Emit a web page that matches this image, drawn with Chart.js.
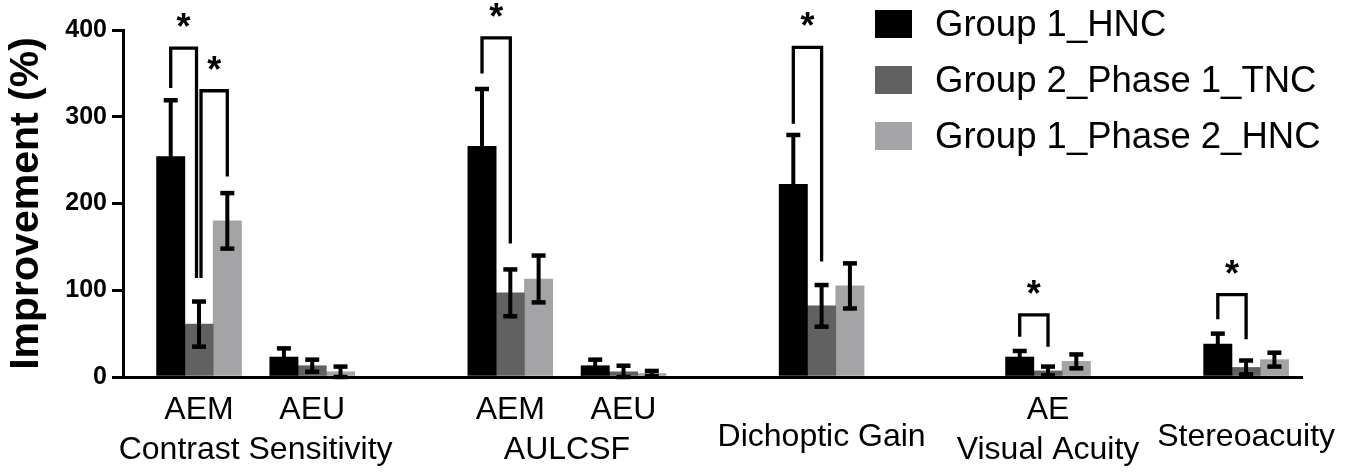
<!DOCTYPE html>
<html lang="en">
<head>
  <meta charset="UTF-8">
  <title>Improvement (%)</title>
  <script src="https://cdn.jsdelivr.net/npm/chart.js"></script>
  <style>
    body { margin: 0; background: #fff; }
    #wrap { position: relative; width: 1355px; height: 472px; }
    #legend {
      position: absolute; left: 875px; top: 10px;
      font-family: 'Liberation Sans', Arial, sans-serif; font-size: 36.5px; color: #000;
    }
    .row { display: flex; align-items: center; height: 28px; margin-bottom: 27.8px; white-space: nowrap; }
    .swatch { width: 37px; height: 28px; margin-right: 23px; flex: none; }
  </style>
</head>
<body>
  <div id="wrap">
    <canvas id="chart" width="1355" height="472"></canvas>
    <div id="legend"></div>
  </div>

  <script>
    // categories and where they sit along the x axis (in bar widths)
    const groups = ['AEM', 'AEU', 'AEM', 'AEU', 'Dichoptic Gain', 'AE', 'Stereoacuity'];
    const groupX = [0, 4, 11, 15, 22, 30, 37];
    // measure names written under their groups
    const measures = ['Contrast Sensitivity', 'AULCSF', 'Visual Acuity'];
    const measureGroups = [[0, 1], [2, 3], [5]];

    const seriesNames = ['Group 1_HNC', 'Group 2_Phase 1_TNC', 'Group 1_Phase 2_HNC'];
    const hnc = [254, 23, 266, 13, 222, 23, 38];
    const hncErr = [65, 10, 66, 7, 57, 7, 12];
    const tnc = [61, 13, 97, 6, 82, 7, 11];
    const tncErr = [26, 7, 27, 7, 24, 5, 8];
    const phase2 = [180, 6, 113, 4, 105, 18, 20];
    const phase2Err = [32, 6, 27, 3, 26, 8, 8];

    const yTicks = [0, 100, 200, 300, 400];

    // significance brackets: from series -> to series within a group, leg ends and top in %
    const brackets = [
      { group: 0, from: 0, to: 1, left: 333, top: 379, right: 114 },
      { group: 0, from: 1, to: 2, left: 114, top: 330, right: 231 },
      { group: 2, from: 0, to: 1, left: 350, top: 391, right: 154 },
      { group: 4, from: 0, to: 1, left: 292, top: 380, right: 133 },
      { group: 5, from: 0, to: 1, left: 46.5, top: 71.5, right: 35 },
      { group: 6, from: 0, to: 1, left: 66.5, top: 95, right: 43.5 }
    ];

    const seriesValues = [hnc, tnc, phase2];
    const seriesErrors = [hncErr, tncErr, phase2Err];
    const colors = ['#000000', '#616161', '#a4a4a6'];

    // x tick labels: 4 thin text rows under the axis
    const tickLabels = {};
    const inMeasure = new Set(measureGroups.flat());
    groups.forEach((g, j) => {
      const lines = tickLabels[groupX[j]] || ['', '', '', ''];
      lines[inMeasure.has(j) ? 0 : 2] = g;
      tickLabels[groupX[j]] = lines;
    });
    measures.forEach((m, k) => {
      const xs = measureGroups[k].map(j => groupX[j]);
      const mid = xs.reduce((a, b) => a + b, 0) / xs.length;
      const lines = tickLabels[mid] || ['', '', '', ''];
      lines[3] = m;
      tickLabels[mid] = lines;
    });
    const tickValues = Object.keys(tickLabels).map(Number).sort((a, b) => a - b);

    Chart.defaults.font.family = "'Liberation Sans', Arial, sans-serif";
    Chart.defaults.color = '#000';

    const errorBars = {
      id: 'errorBars',
      afterDatasetsDraw(chart) {
        const { ctx, scales: { y } } = chart;
        ctx.save();
        ctx.strokeStyle = '#000';
        seriesErrors.forEach((errs, i) => {
          chart.getDatasetMeta(i).data.forEach((bar, j) => {
            const v = seriesValues[i][j];
            const top = y.getPixelForValue(v + errs[j]);
            const bot = y.getPixelForValue(Math.max(v - errs[j], 0));
            ctx.lineWidth = 4;
            ctx.beginPath();
            ctx.moveTo(bar.x, top);
            ctx.lineTo(bar.x, bot);
            ctx.stroke();
            ctx.lineWidth = 4.5;
            [top, bot].forEach(py => {
              ctx.beginPath();
              ctx.moveTo(bar.x - 7, py);
              ctx.lineTo(bar.x + 7, py);
              ctx.stroke();
            });
          });
        });
        ctx.restore();
      }
    };

    const shared = (b, s) => brackets.some(o => o !== b && o.group === b.group && (o.from === s || o.to === s));

    const sigBrackets = {
      id: 'sigBrackets',
      afterDatasetsDraw(chart) {
        const { ctx, scales: { y } } = chart;
        const barX = (s, g) => chart.getDatasetMeta(s).data[g].x;
        ctx.save();
        ctx.lineWidth = 3.3;
        ctx.strokeStyle = '#000';
        ctx.fillStyle = '#000';
        ctx.lineJoin = 'miter';
        ctx.font = "bold 36px 'Liberation Sans', Arial, sans-serif";
        ctx.textAlign = 'center';
        ctx.textBaseline = 'alphabetic';
        brackets.forEach(b => {
          const x1 = barX(b.from, b.group) + (shared(b, b.from) ? 2 : 0);
          const x2 = barX(b.to, b.group) - (shared(b, b.to) ? 2.5 : 0);
          const yTop = y.getPixelForValue(b.top);
          ctx.beginPath();
          ctx.moveTo(x1, y.getPixelForValue(b.left));
          ctx.lineTo(x1, yTop);
          ctx.lineTo(x2, yTop);
          ctx.lineTo(x2, y.getPixelForValue(b.right));
          ctx.stroke();
          const m = ctx.measureText('*');
          const cy = yTop - 28;
          ctx.fillText('*', (x1 + x2) / 2, cy + (m.actualBoundingBoxAscent - m.actualBoundingBoxDescent) / 2);
        });
        ctx.restore();
      }
    };

    new Chart(document.getElementById('chart'), {
      type: 'bar',
      data: {
        datasets: seriesNames.map((name, i) => ({
          label: name,
          data: seriesValues[i].map((v, j) => ({ x: groupX[j], y: v })),
          backgroundColor: colors[i],
          borderWidth: 0,
          barThickness: 28.3
        }))
      },
      options: {
        responsive: false,
        animation: false,
        layout: { padding: { top: 30, right: 53, bottom: 0, left: 0 } },
        plugins: {
          legend: { display: false },
          tooltip: { enabled: false }
        },
        scales: {
          x: {
            type: 'linear',
            offset: false,
            min: -2.686,
            max: 38.975,
            grid: { display: false, drawTicks: false, offset: false },
            border: { display: true, color: '#000', width: 3 },
            afterBuildTicks: s => { s.ticks = tickValues.map(v => ({ value: v })); },
            afterFit: s => { s.height = 95; s.paddingLeft = 0; s.paddingRight = 0; },
            ticks: {
              autoSkip: false,
              maxRotation: 0,
              minRotation: 0,
              padding: 26,
              color: '#000',
              font: { size: 32, lineHeight: '13.5px' },
              callback: v => tickLabels[v]
            }
          },
          y: {
            min: 0,
            max: 400,
            afterBuildTicks: s => { s.ticks = yTicks.map(v => ({ value: v })); },
            afterFit: s => { s.width = 123; },
            grid: { drawOnChartArea: false, drawTicks: true, tickLength: 11, color: '#000', lineWidth: 3 },
            border: { display: true, color: '#000', width: 3 },
            ticks: { padding: 5, color: '#000', font: { size: 25, weight: 'bold' } },
            title: {
              display: true,
              text: 'Improvement (%)',
              color: '#000',
              font: { size: 41, weight: 'bold' },
              padding: { top: 2.5, bottom: 0 }
            }
          }
        }
      },
      plugins: [errorBars, sigBrackets]
    });

    // legend drawn over the plot, top right
    const legend = document.getElementById('legend');
    seriesNames.forEach((name, i) => {
      const row = document.createElement('div');
      row.className = 'row';
      row.innerHTML = `<span class="swatch" style="background:${colors[i]}"></span><span>${name}</span>`;
      legend.appendChild(row);
    });
  </script>
</body>
</html>
